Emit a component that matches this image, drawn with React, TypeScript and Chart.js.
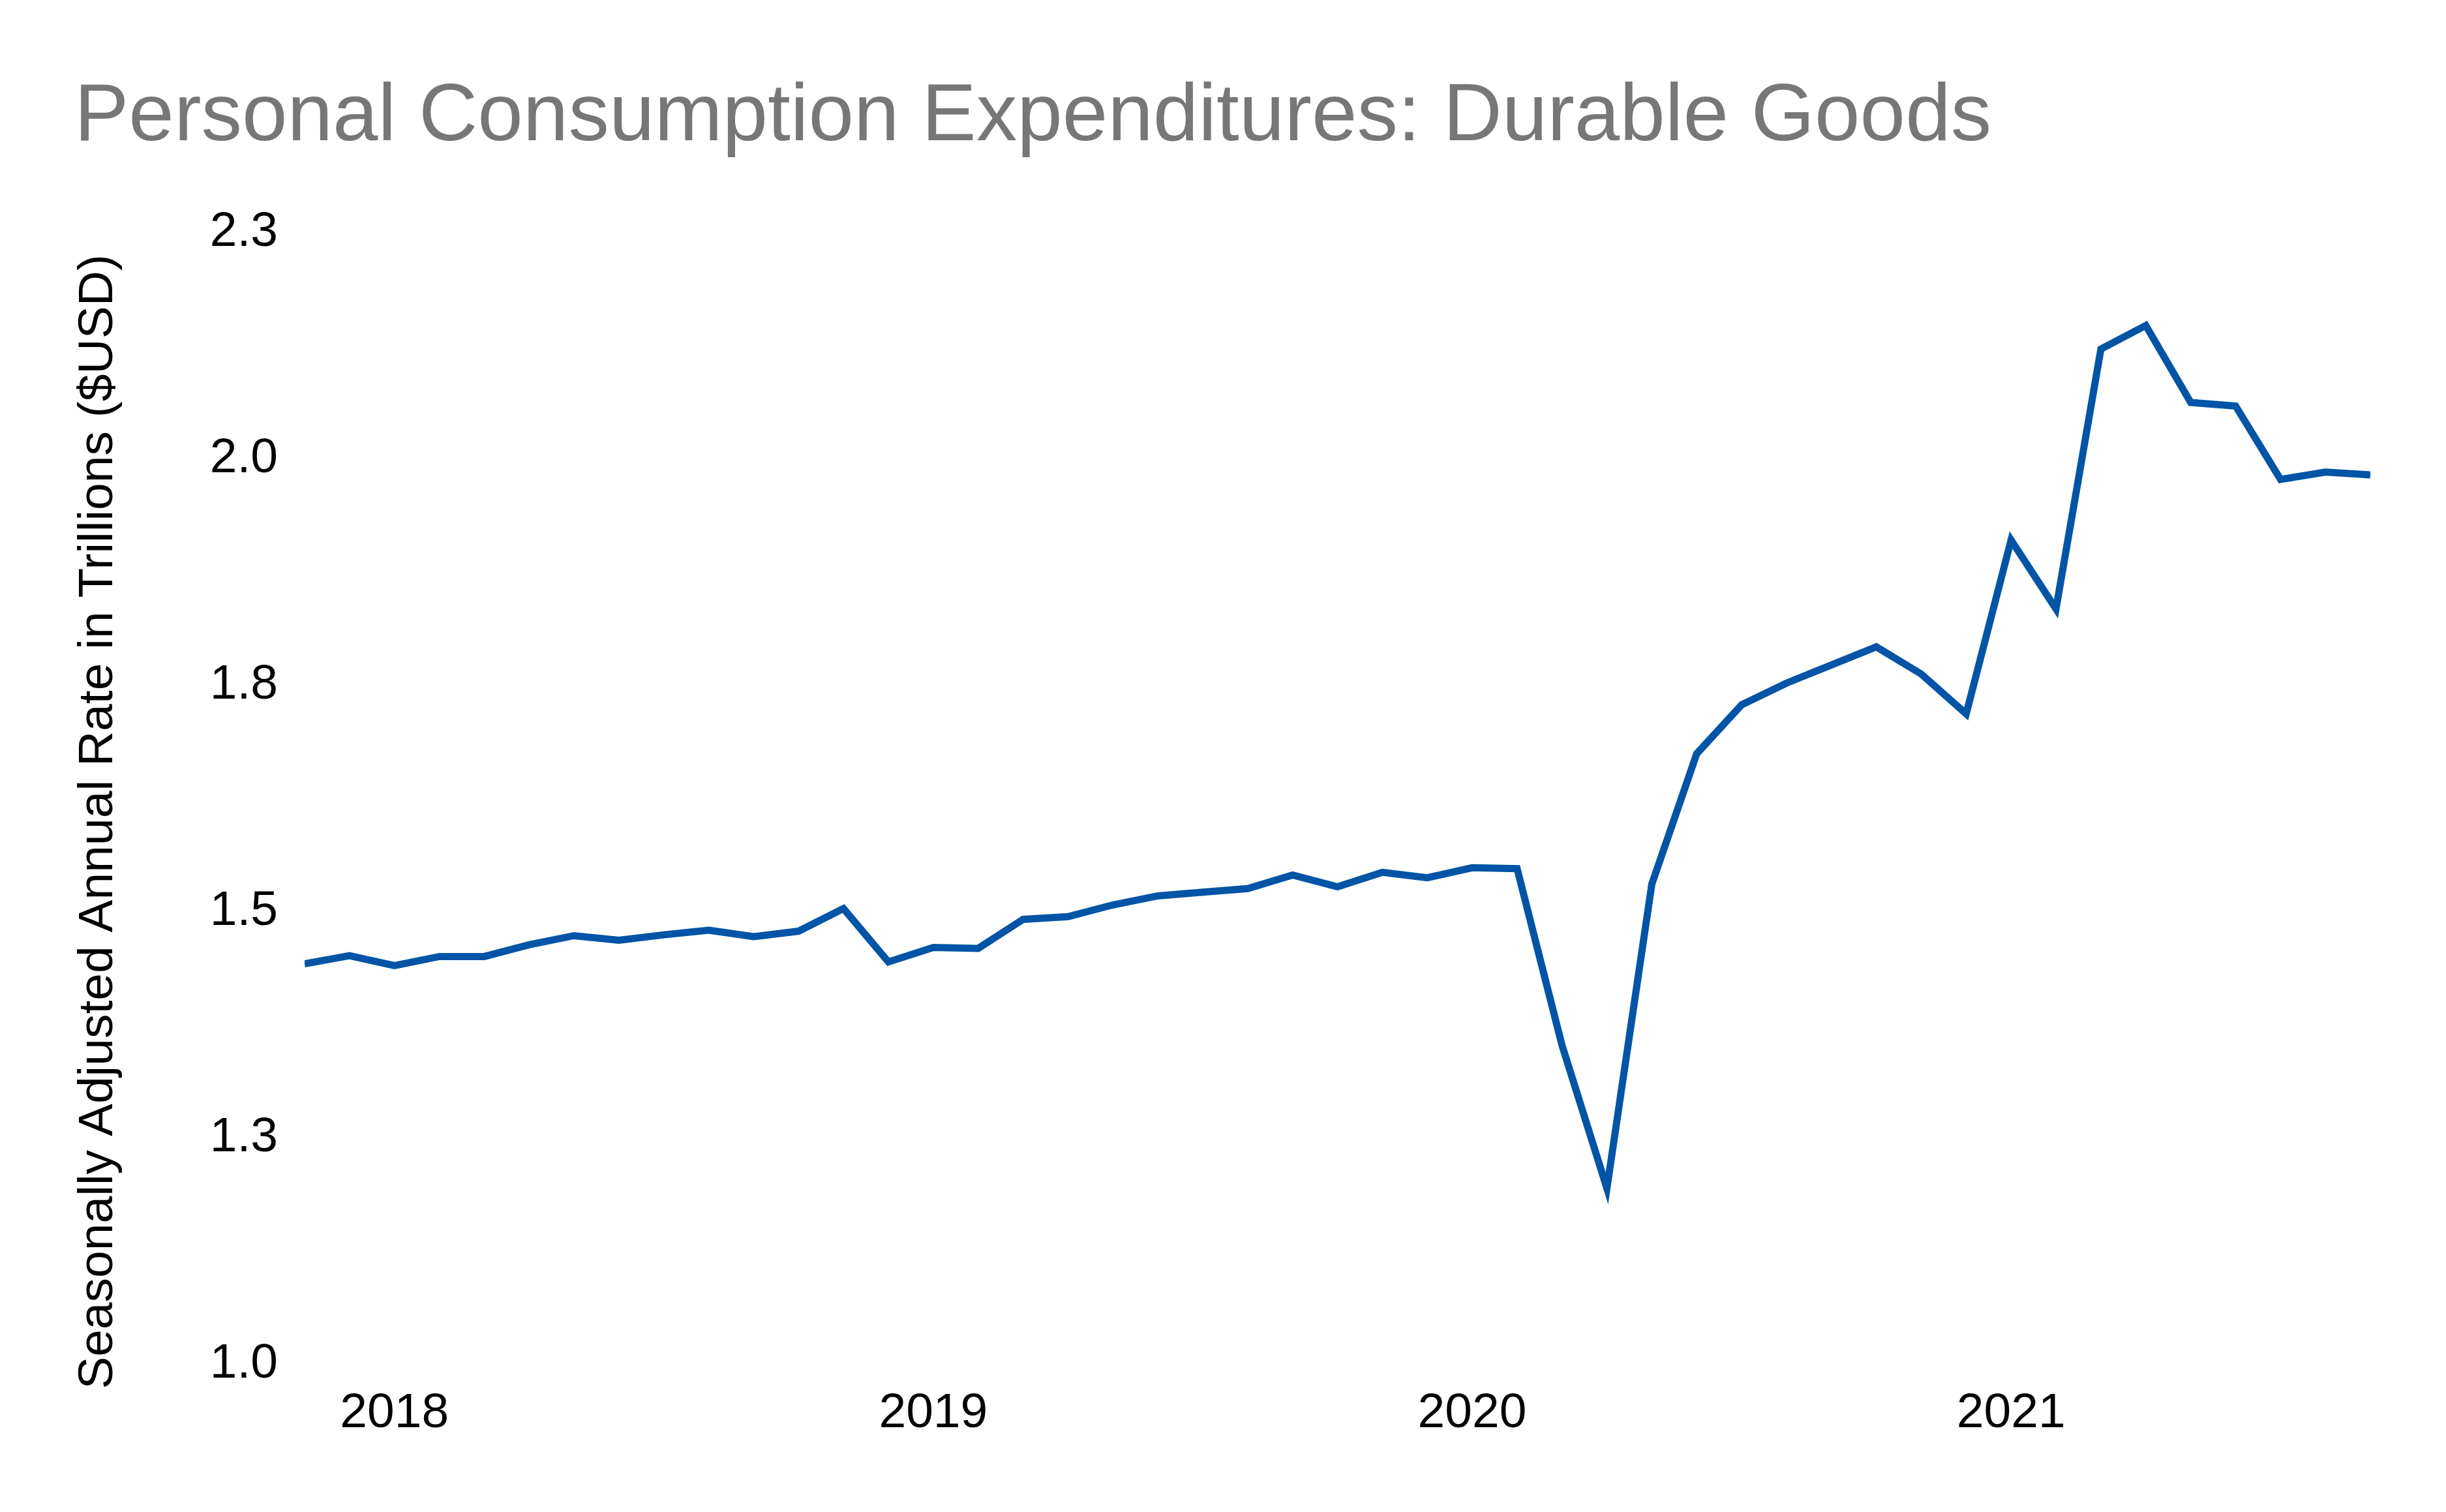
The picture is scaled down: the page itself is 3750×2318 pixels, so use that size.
import React, { useEffect, useRef } from 'react'
import Chart from 'chart.js/auto'

// monthly observations, Nov 2017 - Sep 2021
const months = [
    '2017-11', '2017-12',
    '2018-01', '2018-02', '2018-03', '2018-04', '2018-05', '2018-06',
    '2018-07', '2018-08', '2018-09', '2018-10', '2018-11', '2018-12',
    '2019-01', '2019-02', '2019-03', '2019-04', '2019-05', '2019-06',
    '2019-07', '2019-08', '2019-09', '2019-10', '2019-11', '2019-12',
    '2020-01', '2020-02', '2020-03', '2020-04', '2020-05', '2020-06',
    '2020-07', '2020-08', '2020-09', '2020-10', '2020-11', '2020-12',
    '2021-01', '2021-02', '2021-03', '2021-04', '2021-05', '2021-06',
    '2021-07', '2021-08', '2021-09',
]

// trillions of USD, seasonally adjusted annual rate
const durableGoods = [
    1.442, 1.451,
    1.44, 1.45, 1.45, 1.463, 1.473, 1.468,
    1.474, 1.479, 1.472, 1.478, 1.503, 1.444,
    1.46, 1.459, 1.491, 1.494, 1.507, 1.517,
    1.521, 1.525, 1.54, 1.527, 1.543, 1.537,
    1.548, 1.547, 1.352, 1.194, 1.53, 1.674,
    1.728, 1.752, 1.772, 1.792, 1.762, 1.718,
    1.91, 1.834, 2.121, 2.147, 2.062, 2.058,
    1.977, 1.985, 1.982,
]

const yearTicks = ['2018', '2019', '2020', '2021']
const yTicks = [1.0, 1.25, 1.5, 1.75, 2.0, 2.25]

const FONT = '"Liberation Sans", Arial, Helvetica, sans-serif'
const Y_TITLE = 'Seasonally Adjusted Annual Rate in Trillions ($USD)'

// months counted from Jan 2018
const monthIndex = (m: string) => {
    const [y, mo] = m.split('-').map(Number)
    return (y - 2018) * 12 + (mo - 1)
}

// the axis title sits a bit below the middle of the plot, so draw it by hand
const yTitlePlugin = {
    id: 'yTitle',
    afterDraw(chart: any) {
        const c = chart.ctx
        c.save()
        c.translate(143, 1252)
        c.rotate(-Math.PI / 2)
        c.font = `75px ${FONT}`
        c.fillStyle = '#000'
        c.textAlign = 'center'
        c.textBaseline = 'middle'
        c.fillText(Y_TITLE, 0, 0)
        c.restore()
    },
}

export default function App() {
    const ctx = useRef<HTMLCanvasElement | null>(null)

    useEffect(() => {
        if (!ctx.current) {
            return
        }

        const points = months.map((m, i) => ({ x: monthIndex(m), y: durableGoods[i] }))

        const chart = new Chart(ctx.current, {
            type: 'line',
            data: {
                datasets: [
                    {
                        label: 'Durable Goods',
                        data: points,
                        borderColor: '#0254a6',
                        borderWidth: 11,
                        pointRadius: 0,
                        tension: 0,
                        fill: false,
                    },
                ],
            },
            options: {
                animation: false,
                responsive: false,
                maintainAspectRatio: false,
                layout: {
                    padding: { left: 106, right: 108, top: 5, bottom: 0 },
                },
                plugins: {
                    legend: { display: false },
                    tooltip: { enabled: false },
                    title: {
                        display: true,
                        text: 'Personal Consumption Expenditures: Durable Goods',
                        align: 'start',
                        color: '#777777',
                        font: { family: FONT, size: 125, weight: 'normal' },
                        padding: { top: 93, bottom: 100 },
                    },
                },
                scales: {
                    x: {
                        type: 'linear',
                        min: monthIndex(months[0]),
                        max: monthIndex(months[months.length - 1]),
                        afterBuildTicks: (scale: any) => {
                            scale.ticks = yearTicks.map((y) => ({ value: monthIndex(y + '-01') }))
                        },
                        ticks: {
                            callback: (v: any) => String(2018 + Math.round(Number(v) / 12)),
                            color: '#000',
                            font: { family: FONT, size: 75 },
                            padding: 31,
                            maxRotation: 0,
                            autoSkip: false,
                        },
                        grid: { display: false, drawTicks: false },
                        border: { display: false },
                        afterFit: (scale: any) => {
                            scale.height = 219
                        },
                    },
                    y: {
                        min: 1,
                        max: 2.25,
                        afterBuildTicks: (scale: any) => {
                            scale.ticks = yTicks.map((v) => ({ value: v }))
                        },
                        ticks: {
                            callback: (v: any) => Number(v).toFixed(1),
                            color: '#000',
                            font: { family: FONT, size: 75 },
                            padding: 41,
                        },
                        grid: { display: false, drawTicks: false },
                        border: { display: false },
                        afterFit: (scale: any) => {
                            scale.width = 353
                        },
                    },
                },
            },
            plugins: [yTitlePlugin],
        } as any)

        return () => chart.destroy()
    }, [])

    return <canvas ref={ctx} width={3734} height={2302}></canvas>
}
